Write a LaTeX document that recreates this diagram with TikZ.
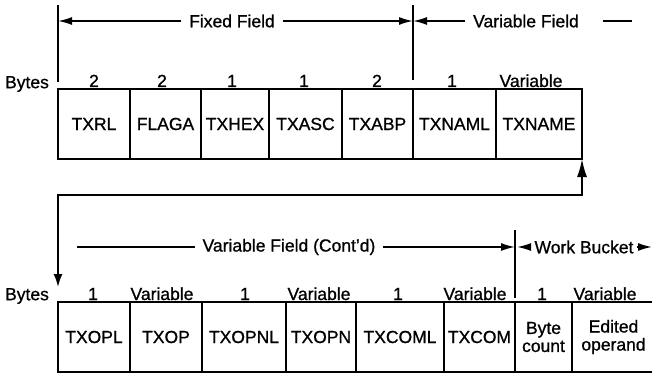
\documentclass[tikz,border=0pt]{standalone}
\usepackage{fontspec}
\setmainfont{Liberation Sans}[FakeBold=0.9]
\usetikzlibrary{positioning,arrows.meta}
\tikzset{
  fld/.style={draw, line width=2pt, minimum height=70pt, inner sep=0pt, outer sep=0pt},
  num/.style={anchor=base, inner sep=0pt},
  lbl/.style={inner sep=7pt},
  dim/.style={-{Latex[length=14pt,width=8pt]}},
}
\begin{document}
\begin{tikzpicture}[x=1pt,y=-1pt,line width=1.7pt,font=\fontsize{17.5}{18}\selectfont]
  \useasboundingbox (0,0) rectangle (652,374);
  % top record
  \node[fld, minimum width=72pt, anchor=north west] (txrl) at (58,89) {TXRL};
  \node[fld, minimum width=71pt, right=0pt of txrl] (flaga) {FLAGA};
  \node[fld, minimum width=68pt, right=0pt of flaga] (txhex) {TXHEX};
  \node[fld, minimum width=73pt, right=0pt of txhex] (txasc) {TXASC};
  \node[fld, minimum width=71pt, right=0pt of txasc] (txabp) {TXABP};
  \node[fld, minimum width=83pt, right=0pt of txabp] (txnaml) {TXNAML};
  \node[fld, minimum width=86pt, right=0pt of txnaml] (txname) {TXNAME};
  \node (bytes1) at (27,84) {Bytes};
  \node[num] (lrl) at (94,87) {2};
  \node[num] (lflaga) at (162,87) {2};
  \node[num] (lhex) at (232,87) {1};
  \node[num] (lasc) at (304,87) {1};
  \node[num] (labp) at (377,87) {2};
  \node[num] (lnaml) at (452,87) {1};
  \node[num] (lname) at (531,87) {Variable};
  % field limits, top
  \draw (58,5) -- (58,82);
  \draw (413,5) -- (413,80);
  \coordinate (fixl) at (58,21);
  \coordinate (fixr) at (413,21);
  \coordinate (varend) at (632,21);
  \node[lbl] (fixed) at (232,21) {Fixed Field};
  \node[lbl] (varf) at (526,21) {Variable Field};
  \draw[dim] (fixed) -- (fixl);
  \draw[dim] (fixed) -- (fixr);
  \draw[dim] (varf) -- (fixr);
  \draw ([xshift=16pt]varf.east) -- (varend);
  % bottom record
  \node[fld, minimum width=72pt, anchor=north west] (txopl) at (58,302) {TXOPL};
  \node[fld, minimum width=72pt, right=0pt of txopl] (txop) {TXOP};
  \node[fld, minimum width=84pt, right=0pt of txop] (txopnl) {TXOPNL};
  \node[fld, minimum width=70pt, right=0pt of txopnl] (txopn) {TXOPN};
  \node[fld, minimum width=88pt, right=0pt of txopn] (txcoml) {TXCOML};
  \node[fld, minimum width=71pt, right=0pt of txcoml] (txcom) {TXCOM};
  \node[fld, minimum width=57pt, right=0pt of txcom, align=center] (bcount) {Byte\\count};
  \node[fld, minimum width=83pt, right=0pt of bcount, align=center] (edop) {Edited\\operand};
  \node (bytes2) at (27,296) {Bytes};
  \node[num] (lopl) at (93,300) {1};
  \node[num] (lop) at (162,300) {Variable};
  \node[num] (lopnl) at (245,300) {1};
  \node[num] (lopn) at (319,300) {Variable};
  \node[num] (lcoml) at (398,300) {1};
  \node[num] (lcom) at (475,300) {Variable};
  \node[num] (lbc) at (542,300) {1};
  \node[num] (led) at (605,300) {Variable};
  % link between the two records
  \coordinate (loopend) at ([yshift=15pt]txopl.north west);
  \draw[{Latex[length=18pt,width=10pt]}-{Latex[length=13pt,width=9pt]}] (txname.south east) -- ++(0,36) -| (loopend);
  % field limits, bottom
  \draw (515,230) -- (515,298);
  \coordinate (contl) at (77,247);
  \coordinate (contr) at (515,247);
  \coordinate (workl) at (517,247);
  \coordinate (workr) at (652,247);
  \node[lbl] (cont) at (289,247) {Variable Field (Cont'd)};
  \node[lbl, inner sep=3pt] (work) at (584,247) {Work Bucket};
  \draw (cont) -- (contl);
  \draw[dim] (cont) -- (contr);
  \draw[dim] (work) -- (workl);
  \draw[dim] (work) -- (workr);
\end{tikzpicture}
\end{document}
